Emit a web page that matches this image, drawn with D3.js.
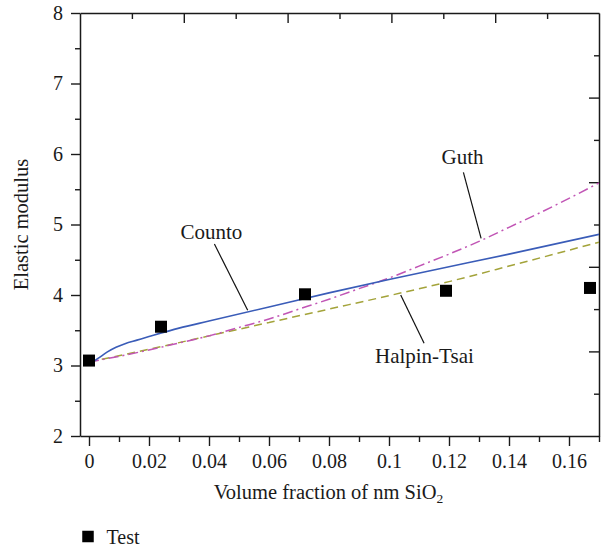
<!DOCTYPE html>
<html>
<head>
<meta charset="utf-8">
<script src="https://cdn.jsdelivr.net/npm/d3@7"></script>
<style>
  html, body { margin: 0; padding: 0; background: #fff; }
  svg text { font-family: "Liberation Serif", "Times New Roman", serif; fill: #1a1a1a; }
</style>
</head>
<body>
<svg id="chart" width="604" height="550"></svg>
<script>
// ---- data ----
const testX = [0, 0.024, 0.072, 0.119, 0.167];
const testY = [3.07, 3.55, 4.01, 4.06, 4.10];

const countoX = [0.0005, 0.003, 0.006, 0.009, 0.012, 0.016, 0.02, 0.03, 0.04, 0.06, 0.08, 0.10, 0.12, 0.14, 0.17];
const countoY = [3.03, 3.10, 3.19, 3.26, 3.31, 3.36, 3.41, 3.53, 3.63, 3.83, 4.03, 4.22, 4.40, 4.58, 4.86];

const guthX = [0, 0.01, 0.02, 0.03, 0.04, 0.05, 0.06, 0.07, 0.08, 0.09, 0.10, 0.11, 0.12, 0.13, 0.14, 0.15, 0.16, 0.17];
const guthY = [3.05, 3.13, 3.22, 3.32, 3.42, 3.54, 3.66, 3.80, 3.94, 4.09, 4.24, 4.41, 4.58, 4.76, 4.96, 5.16, 5.37, 5.59];

const halpinX = [0, 0.02, 0.04, 0.06, 0.08, 0.10, 0.12, 0.14, 0.17];
const halpinY = [3.05, 3.23, 3.42, 3.61, 3.80, 3.99, 4.19, 4.41, 4.75];

const xTickValues = [0, 0.02, 0.04, 0.06, 0.08, 0.1, 0.12, 0.14, 0.16];
const xTickLabels = ["0", "0.02", "0.04", "0.06", "0.08", "0.1", "0.12", "0.14", "0.16"];
const yTickValues = [2, 3, 4, 5, 6, 7, 8];
const yTickLabels = ["2", "3", "4", "5", "6", "7", "8"];

const seriesNames = ["Counto", "Guth", "Halpin-Tsai"];
const legendName = "Test";

// ---- layout ----
const svg = d3.select("#chart");
const L = 80, R = 599, T = 13, B = 436;

const x = d3.scaleLinear().domain([-0.003, 0.17]).range([L, R]);
const y = d3.scaleLinear().domain([2, 8]).range([B, T]);
// secondary (unlabelled) frame scales for top and right ticks
const xTop = d3.scaleLinear().domain([0, 10]).range([L, R]);
const yRight = d3.scaleLinear().domain([0, 10]).range([B, T]);

const axisColor = "#1a1a1a";
const fs = 20;

// ---- bottom axis ----
const minorX = d3.range(0, 0.171, 0.01).filter(v => Math.abs(v / 0.02 - Math.round(v / 0.02)) > 1e-6);
const gB = svg.append("g").attr("transform", `translate(0,${B})`);
gB.call(d3.axisBottom(x).tickValues(xTickValues)
  .tickFormat((d, i) => xTickLabels[i]).tickSize(10).tickPadding(8).tickSizeOuter(0));
gB.append("g").call(d3.axisBottom(x).tickValues(minorX).tickFormat("").tickSize(6).tickSizeOuter(0))
  .select(".domain").remove();

// ---- left axis ----
const minorY = d3.range(2.5, 8, 1);
const gL = svg.append("g").attr("transform", `translate(${L},0)`);
gL.call(d3.axisLeft(y).tickValues(yTickValues)
  .tickFormat((d, i) => yTickLabels[i]).tickSize(9).tickPadding(8).tickSizeOuter(0));
gL.append("g").call(d3.axisLeft(y).tickValues(minorY).tickFormat("").tickSize(5).tickSizeOuter(0))
  .select(".domain").remove();

// ---- top axis (inside ticks, no labels) ----
const gT = svg.append("g").attr("transform", `translate(0,${T})`);
gT.call(d3.axisBottom(xTop).tickValues([2, 4, 6, 8]).tickFormat("").tickSize(10).tickSizeOuter(0));
gT.append("g").call(d3.axisBottom(xTop).tickValues([1, 3, 5, 7, 9]).tickFormat("").tickSize(6).tickSizeOuter(0))
  .select(".domain").remove();

// ---- right axis (inside ticks, no labels) ----
const gR = svg.append("g").attr("transform", `translate(${R},0)`);
gR.call(d3.axisLeft(yRight).tickValues([2, 4, 6, 8]).tickFormat("").tickSize(10).tickSizeOuter(0));
gR.append("g").call(d3.axisLeft(yRight).tickValues([1, 3, 5, 7, 9]).tickFormat("").tickSize(5).tickSizeOuter(0))
  .select(".domain").remove();

svg.selectAll(".domain").attr("stroke", axisColor).attr("stroke-width", 1.5);
svg.selectAll(".tick line").attr("stroke", axisColor).attr("stroke-width", 1.4);
svg.selectAll(".tick text").attr("font-size", fs).attr("font-family", "Liberation Serif").attr("fill", "#1a1a1a");

// ---- axis titles ----
const xt = svg.append("text").attr("x", 328.5).attr("y", 499).attr("text-anchor", "middle").attr("font-size", 20.5);
xt.append("tspan").text("Volume fraction of nm SiO");
xt.append("tspan").attr("font-size", 13.5).attr("dy", 4).text("2");

svg.append("text").attr("transform", `translate(28,${(T + B) / 2}) rotate(-90)`)
  .attr("text-anchor", "middle").attr("font-size", 20.5).text("Elastic modulus");

// ---- clip ----
svg.append("clipPath").attr("id", "clip").append("rect")
  .attr("x", L).attr("y", T).attr("width", R - L).attr("height", B - T);

const line = d3.line().x(d => x(d[0])).y(d => y(d[1])).curve(d3.curveMonotoneX);
const plot = svg.append("g").attr("clip-path", "url(#clip)");

plot.append("path").datum(d3.zip(halpinX, halpinY)).attr("d", line)
  .attr("fill", "none").attr("stroke", "#a3a33a").attr("stroke-width", 1.5).attr("stroke-dasharray", "8,5");
plot.append("path").datum(d3.zip(guthX, guthY)).attr("d", line)
  .attr("fill", "none").attr("stroke", "#c155b5").attr("stroke-width", 1.5).attr("stroke-dasharray", "10,4,2,4");
plot.append("path").datum(d3.zip(countoX, countoY)).attr("d", line)
  .attr("fill", "none").attr("stroke", "#3a5cb8").attr("stroke-width", 1.6);

// ---- test points ----
const sq = 12;
svg.append("g").selectAll("rect").data(d3.zip(testX, testY)).join("rect")
  .attr("x", d => x(d[0]) - sq / 2).attr("y", d => y(d[1]) - sq / 2)
  .attr("width", sq).attr("height", sq).attr("fill", "#000");

// ---- annotations (label anchor and leader in data units) ----
const ann = [
  { name: seriesNames[0], tx: 0.0408, ty: 4.80, x1: 0.0418, y1: 4.723, x2: 0.0529, y2: 3.783 },
  { name: seriesNames[1], tx: 0.1245, ty: 5.858, x1: 0.1248, y1: 5.740, x2: 0.1307, y2: 4.804 },
  { name: seriesNames[2], tx: 0.1118, ty: 3.031, x1: 0.1039, y1: 4.0, x2: 0.1117, y2: 3.315 }
];
const ga = svg.append("g");
ann.forEach(a => {
  ga.append("line").attr("x1", x(a.x1)).attr("y1", y(a.y1)).attr("x2", x(a.x2)).attr("y2", y(a.y2))
    .attr("stroke", "#111").attr("stroke-width", 1.2);
  ga.append("text").attr("x", x(a.tx)).attr("y", y(a.ty)).attr("text-anchor", "middle")
    .attr("font-size", 21).text(a.name);
});

// ---- legend ----
const lg = svg.append("g").attr("transform", "translate(88,536.5)");
lg.append("rect").attr("x", -5.75).attr("y", -5.75).attr("width", 11.5).attr("height", 11.5).attr("fill", "#000");
lg.append("text").attr("x", 18.5).attr("y", 7.5).attr("font-size", 20).text(legendName);
</script>
</body>
</html>
